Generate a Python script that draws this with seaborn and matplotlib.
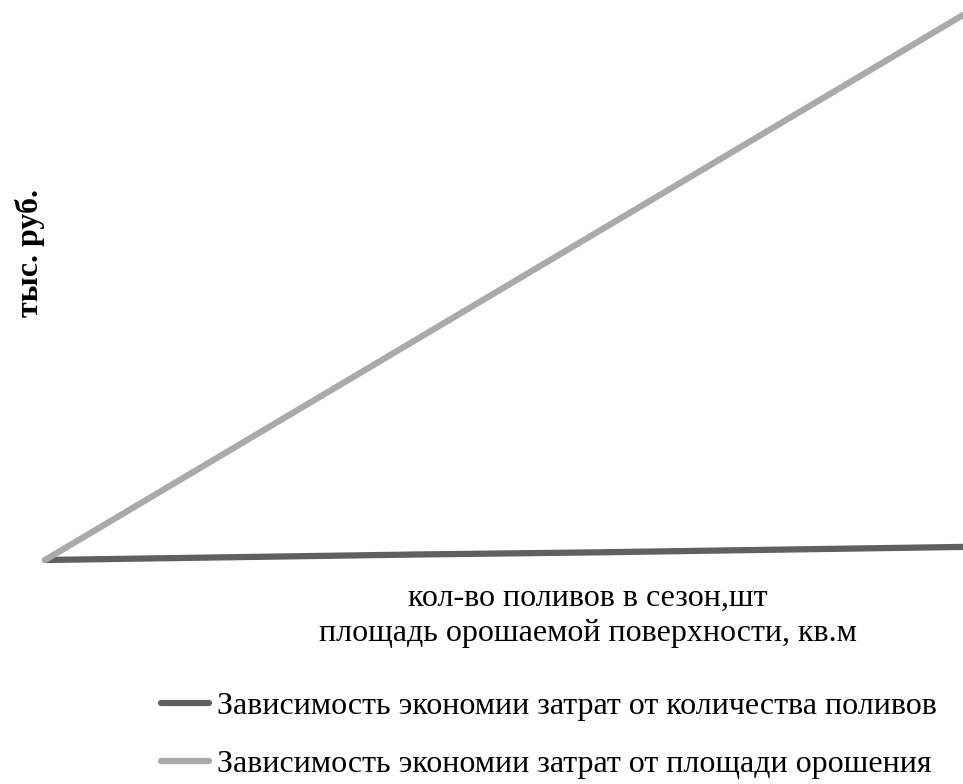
import matplotlib
matplotlib.use("Agg")
import matplotlib.pyplot as plt
import pandas as pd
import seaborn as sns

# ── Data ──────────────────────────────────────────────────────────────────────
x_points = [0, 1, 2, 3, 4, 5]
savings_by_waterings = [0, 0.5, 1.0, 1.4, 1.9, 2.4]
savings_by_area = [0, 20, 40, 60, 80, 100]
series_names = [
    "Зависимость экономии затрат от количества поливов",
    "Зависимость экономии затрат от площади орошения",
]
colors = ["#606060", "#aaaaaa"]

df = pd.concat([
    pd.DataFrame({"x": x_points, "y": savings_by_waterings, "series": series_names[0]}),
    pd.DataFrame({"x": x_points, "y": savings_by_area, "series": series_names[1]}),
])

# ── Plot ──────────────────────────────────────────────────────────────────────
sns.set_theme(style="white")
plt.rcParams["font.family"] = ["Liberation Serif", "DejaVu Serif"]
plt.rcParams["text.color"] = "black"

W, H = 963, 784
fig = plt.figure(figsize=(W / 100, H / 100), dpi=100)
ax = fig.add_axes([45 / W, (H - 560) / H, (963 - 45) / W, (560 - 15) / H])

sns.lineplot(data=df, x="x", y="y", hue="series", palette=colors,
             linewidth=4.5, ax=ax, legend=False, solid_capstyle="round")
for line in ax.get_lines():
    line.set_clip_on(False)

ax.set_xlim(min(x_points), max(x_points))
ax.set_ylim(0, max(savings_by_area))
ax.set_xticks([])
ax.set_yticks([])
sns.despine(ax=ax, left=True, bottom=True)
ax.set_xlabel("")
ax.set_ylabel("")

fig.text(30 / W, 1 - 253 / H, "тыс. руб.", rotation=90, ha="center", va="center",
         fontsize=23, fontweight="bold")
fig.text(588 / W, 1 - 598 / H, "кол-во поливов в сезон,шт", ha="center", va="center",
         fontsize=23)
fig.text(588 / W, 1 - 634 / H, "площадь орошаемой поверхности, кв.м", ha="center",
         va="center", fontsize=23)

handles = [plt.Line2D([], [], color=c, linewidth=4.5, solid_capstyle="round") for c in colors]
fig.legend(handles, series_names, loc="upper left", bbox_to_anchor=(161 / W, 1 - 692 / H),
           frameon=False, fontsize=23, handlelength=1.5, handletextpad=0.25,
           labelspacing=0.88, borderaxespad=0, borderpad=0)

fig.savefig("out.png", dpi=100)
